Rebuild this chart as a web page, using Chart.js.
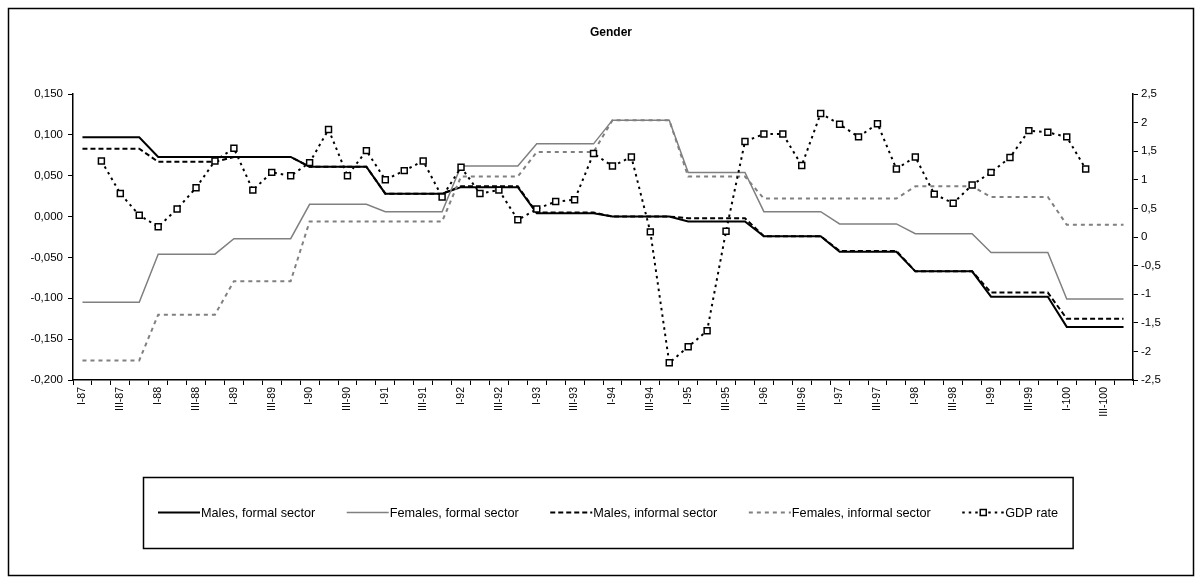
<!DOCTYPE html>
<html>
<head>
<meta charset="utf-8">
<script src="https://cdn.jsdelivr.net/npm/chart.js@4.4.1/dist/chart.umd.min.js"></script>
<style>
html,body{margin:0;padding:0;background:#fff;}
#wrap{position:relative;width:1202px;height:584px;}
</style>
</head>
<body>
<div id="wrap"><canvas id="c" width="1202" height="584"></canvas></div>
<script>
const chartTitle = "Gender";
const categories = [
 "I-87","II-87","III-87","IV-87","I-88","II-88","III-88","IV-88",
 "I-89","II-89","III-89","IV-89","I-90","II-90","III-90","IV-90",
 "I-91","II-91","III-91","IV-91","I-92","II-92","III-92","IV-92",
 "I-93","II-93","III-93","IV-93","I-94","II-94","III-94","IV-94",
 "I-95","II-95","III-95","IV-95","I-96","II-96","III-96","IV-96",
 "I-97","II-97","III-97","IV-97","I-98","II-98","III-98","IV-98",
 "I-99","II-99","III-99","IV-99","I-100","II-100","III-100","IV-100"
];
const seriesNames = ["Males, formal sector","Females, formal sector","Males, informal sector","Females, informal sector","GDP rate"];
const malesFormal = [
 0.097,0.097,0.097,0.097, 0.073,0.073,0.073,0.073, 0.073,0.073,0.073,0.073,
 0.061,0.061,0.061,0.061, 0.028,0.028,0.028,0.028, 0.036,0.036,0.036,0.036,
 0.004,0.004,0.004,0.004, 0.000,0.000,0.000,0.000, -0.006,-0.006,-0.006,-0.006,
 -0.024,-0.024,-0.024,-0.024, -0.043,-0.043,-0.043,-0.043, -0.067,-0.067,-0.067,-0.067,
 -0.098,-0.098,-0.098,-0.098, -0.135,-0.135,-0.135,-0.135
];
const femalesFormal = [
 -0.105,-0.105,-0.105,-0.105, -0.046,-0.046,-0.046,-0.046, -0.027,-0.027,-0.027,-0.027,
 0.015,0.015,0.015,0.015, 0.006,0.006,0.006,0.006, 0.062,0.062,0.062,0.062,
 0.089,0.089,0.089,0.089, 0.118,0.118,0.118,0.118, 0.054,0.054,0.054,0.054,
 0.006,0.006,0.006,0.006, -0.009,-0.009,-0.009,-0.009, -0.021,-0.021,-0.021,-0.021,
 -0.044,-0.044,-0.044,-0.044, -0.101,-0.101,-0.101,-0.101
];
const malesInformal = [
 0.083,0.083,0.083,0.083, 0.067,0.067,0.067,0.067, 0.073,0.073,0.073,0.073,
 0.061,0.061,0.061,0.061, 0.028,0.028,0.028,0.028, 0.037,0.037,0.037,0.037,
 0.005,0.005,0.005,0.005, 0.000,0.000,0.000,0.000, -0.002,-0.002,-0.002,-0.002,
 -0.024,-0.024,-0.024,-0.024, -0.042,-0.042,-0.042,-0.042, -0.067,-0.067,-0.067,-0.067,
 -0.093,-0.093,-0.093,-0.093, -0.125,-0.125,-0.125,-0.125
];
const femalesInformal = [
 -0.176,-0.176,-0.176,-0.176, -0.120,-0.120,-0.120,-0.120, -0.079,-0.079,-0.079,-0.079,
 -0.006,-0.006,-0.006,-0.006, -0.006,-0.006,-0.006,-0.006, 0.049,0.049,0.049,0.049,
 0.079,0.079,0.079,0.079, 0.118,0.118,0.118,0.118, 0.049,0.049,0.049,0.049,
 0.022,0.022,0.022,0.022, 0.022,0.022,0.022,0.022, 0.037,0.037,0.037,0.037,
 0.024,0.024,0.024,0.024, -0.010,-0.010,-0.010,-0.010
];
const gdpRate = [
 null,1.33,0.76,0.38,0.18,0.49,0.86,1.33,1.55,0.82,1.13,1.07,1.30,1.88,1.07,1.51,
 1.00,1.16,1.33,0.70,1.22,0.76,0.82,0.30,0.49,0.62,0.65,1.46,1.24,1.40,0.09,-2.20,
 -1.92,-1.64,0.10,1.67,1.80,1.80,1.25,2.16,1.97,1.75,1.98,1.19,1.40,0.75,0.59,0.91,
 1.13,1.39,1.86,1.83,1.75,1.19,null,null
];
const leftTicks = {min:-0.2, max:0.15, step:0.05};
const rightTicks = {min:-2.5, max:2.5, step:0.5};

const FONT = "'Liberation Sans', Arial, sans-serif";

const framePlugin = {
  id:'frame',
  afterDraw(chart){
    const ctx = chart.ctx;
    ctx.save();
    ctx.strokeStyle = '#000';
    ctx.lineWidth = 1.5;
    ctx.strokeRect(8.5, 8.5, 1185, 567);
    ctx.fillStyle = '#000';
    ctx.font = "bold 12px " + FONT;
    ctx.textAlign = 'center';
    ctx.textBaseline = 'middle';
    ctx.fillText(chartTitle, 611, 33);
    ctx.font = "12.7px " + FONT;
    const ly = 512;
    let x = 158;
    const sample = 42, gap = 31.5;
    chart.data.datasets.forEach((ds) => {
      ctx.save();
      ctx.strokeStyle = ds.borderColor;
      ctx.lineWidth = ds.borderWidth;
      ctx.setLineDash(ds.borderDash || []);
      ctx.beginPath();
      ctx.moveTo(x, ly + 0.5);
      ctx.lineTo(x + sample, ly + 0.5);
      ctx.stroke();
      ctx.restore();
      if (ds.pointRadius && ds.pointRadius > 0) {
        ctx.save();
        ctx.fillStyle = '#fff';
        ctx.strokeStyle = '#000';
        ctx.lineWidth = 1.5;
        ctx.fillRect(x + sample/2 - 3, ly - 2.5, 6, 6);
        ctx.strokeRect(x + sample/2 - 3, ly - 2.5, 6, 6);
        ctx.restore();
      }
      ctx.fillStyle = '#000';
      ctx.textAlign = 'left';
      ctx.textBaseline = 'middle';
      ctx.fillText(ds.label, x + sample + 1, ly + 1);
      x += sample + 1 + ctx.measureText(ds.label).width + gap;
    });
    const right = x - gap + 15;
    ctx.strokeStyle = '#000';
    ctx.lineWidth = 1.5;
    ctx.setLineDash([]);
    ctx.strokeRect(143.5, 477.5, right - 143.5, 71);
    ctx.restore();
  }
};

function fmtLeft(v){
  let r = Math.round(v*1000)/1000;
  if (Math.abs(r) < 1e-9) r = 0;
  return r.toFixed(3).replace('.', ',');
}
function fmtRight(v){
  let r = Math.round(v*10)/10;
  if (Math.abs(r) < 1e-9) r = 0;
  return String(r).replace('.', ',');
}

const yFont = {family: FONT, size: 11.5};
const xFont = {family: FONT, size: 10.5};

new Chart(document.getElementById('c'), {
  type: 'line',
  data: {
    labels: categories,
    datasets: [
      {label: seriesNames[0], data: malesFormal, borderColor:'#000000', borderWidth:2, pointRadius:0, tension:0, order:5, yAxisID:'y'},
      {label: seriesNames[1], data: femalesFormal, borderColor:'#808080', borderWidth:1.5, pointRadius:0, tension:0, order:4, yAxisID:'y'},
      {label: seriesNames[2], data: malesInformal, borderColor:'#000000', borderWidth:2, borderDash:[5,3], pointRadius:0, tension:0, order:3, yAxisID:'y'},
      {label: seriesNames[3], data: femalesInformal, borderColor:'#808080', borderWidth:2, borderDash:[4,4], pointRadius:0, tension:0, order:2, yAxisID:'y'},
      {label: seriesNames[4], data: gdpRate, borderColor:'#000000', borderWidth:2, borderDash:[2.5,4], pointRadius:4.2, pointStyle:'rect', pointBackgroundColor:'#ffffff', pointBorderColor:'#000000', pointBorderWidth:1.5, tension:0, order:1, yAxisID:'y2', spanGaps:false}
    ]
  },
  options: {
    responsive: false,
    animation: false,
    devicePixelRatio: 1,
    layout: {padding: {top: 94, left: 0, right: 0, bottom: 0}},
    plugins: {legend: {display:false}, title:{display:false}, tooltip:{enabled:false}},
    scales: {
      x: {
        type: 'category',
        offset: true,
        grid: {offset: true, drawOnChartArea: false, drawTicks: true, tickLength: 5, color: '#000', lineWidth: 1},
        border: {color: '#000', width: 1.5},
        ticks: {
          autoSkip: false, maxRotation: 90, minRotation: 90, padding: 2, color: '#000', font: xFont,
          callback: function(v, i){ return i % 2 === 0 ? categories[i] : ''; }
        },
        afterFit: function(s){ s.height = 204; }
      },
      y: {
        position: 'left',
        min: leftTicks.min, max: leftTicks.max,
        grid: {drawOnChartArea: false, drawTicks: true, tickLength: 5, color: '#000', lineWidth: 1},
        border: {color: '#000', width: 1.5},
        ticks: {stepSize: leftTicks.step, color: '#000', font: yFont, padding: 5, callback: (v) => fmtLeft(v)},
        afterFit: function(s){ s.width = 73; }
      },
      y2: {
        position: 'right',
        min: rightTicks.min, max: rightTicks.max,
        grid: {drawOnChartArea: false, drawTicks: true, tickLength: 5, color: '#000', lineWidth: 1},
        border: {color: '#000', width: 1.5},
        ticks: {stepSize: rightTicks.step, color: '#000', font: yFont, padding: 3, callback: (v) => fmtRight(v)},
        afterFit: function(s){ s.width = 69; }
      }
    }
  },
  plugins: [framePlugin]
});
</script>
</body>
</html>
